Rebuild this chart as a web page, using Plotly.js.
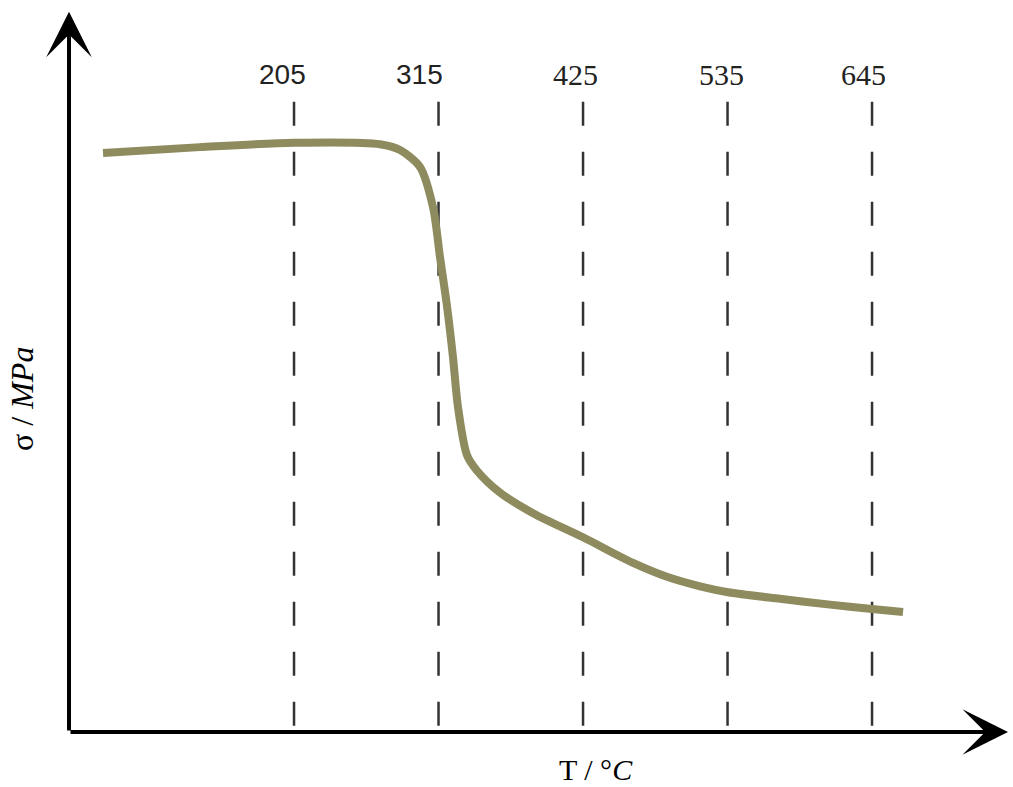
<!DOCTYPE html>
<html>
<head>
<meta charset="utf-8">
<script src="https://cdn.plot.ly/plotly-3.0.1.min.js"></script>
<style>html,body{margin:0;padding:0;background:#fff;}#chart{width:1013px;height:787px;}</style>
</head>
<body>
<div id="chart"></div>
<script>
// ---- data ----
const tickTemps = [205, 315, 425, 535, 645];
const tickLabels = ['205', '315', '425', '535', '645'];
const curveT = [59.6, 133.4, 205, 270.5, 285.7, 300.9, 310.8, 316.1, 321.5, 326.0, 329.8, 336.7, 344.3, 361.8, 386.9, 425, 463.1, 488.9, 514.1, 535.4, 575, 613, 645, 668.6];
const curveSigma = [79.1, 79.9, 80.5, 80.3, 79.5, 77.2, 71.7, 64.9, 58.1, 51.2, 44.4, 37.8, 35.7, 32.7, 29.9, 26.6, 23.1, 21.2, 19.9, 19.1, 18.2, 17.4, 16.8, 16.4];

// ---- axis frame (data units) ----
const xMin = 33.7, xMax = 752.3;
const yMin = 0, yMax = 100;
const xTip = 748.5, yTip = 98.4;
const guideTop = 86.1;
const labelY = 89.8;
const labelShift = [-12, -19, -8, -6, -9];
const labelFonts = ['Liberation Sans', 'Liberation Sans', 'Liberation Serif', 'Liberation Serif', 'Liberation Serif'];
const labelSizes = [28, 28, 30, 30, 30];

const shapes = tickTemps.map(t => ({
  type: 'line', xref: 'x', yref: 'y', layer: 'below',
  x0: t, x1: t, y0: guideTop, y1: yMin,
  line: {color: '#333333', width: 2.5, dash: '24px,26px'}
}));

const annotations = tickTemps.map((t, i) => ({
  x: t, y: labelY, xref: 'x', yref: 'y', text: tickLabels[i], showarrow: false,
  xshift: labelShift[i],
  font: {family: labelFonts[i], size: labelSizes[i], color: '#222'}
}));

// axes with arrowheads
annotations.push({
  x: xTip, y: yMin, ax: xMin, ay: yMin, xref: 'x', yref: 'y', axref: 'x', ayref: 'y',
  text: '', showarrow: true, arrowhead: 3, arrowwidth: 4, arrowsize: 1.9, arrowcolor: '#000', standoff: 0
});
annotations.push({
  x: xMin, y: yTip, ax: xMin, ay: yMin, xref: 'x', yref: 'y', axref: 'x', ayref: 'y',
  text: '', showarrow: true, arrowhead: 3, arrowwidth: 4, arrowsize: 1.9, arrowcolor: '#000', standoff: 0
});
// axis titles
annotations.push({
  xref: 'paper', yref: 'paper', x: 0.558, y: 0, xanchor: 'center', yanchor: 'middle',
  yshift: -37,
  text: 'T / °<i>C</i>', showarrow: false,
  font: {family: 'Liberation Serif', size: 30, color: '#000'}
});
annotations.push({
  xref: 'paper', yref: 'paper', x: 0, y: 0.455, xanchor: 'center', yanchor: 'middle',
  xshift: -47,
  text: 'σ / <i>MPa</i>', textangle: -90, showarrow: false,
  font: {family: 'Liberation Serif', size: 32, color: '#000'}
});

const trace = {
  x: curveT, y: curveSigma, type: 'scatter', mode: 'lines',
  line: {color: '#8e8b5e', width: 8, shape: 'spline', smoothing: 0.8},
  hoverinfo: 'skip'
};

const layout = {
  width: 1013, height: 787,
  margin: {l: 69, r: 0, t: 0, b: 55},
  paper_bgcolor: '#fff', plot_bgcolor: '#fff',
  showlegend: false,
  xaxis: {range: [xMin, xMax], visible: false, fixedrange: true},
  yaxis: {range: [yMin, yMax], visible: false, fixedrange: true},
  shapes: shapes,
  annotations: annotations
};

Plotly.newPlot('chart', [trace], layout, {displayModeBar: false, staticPlot: true});
</script>
</body>
</html>
